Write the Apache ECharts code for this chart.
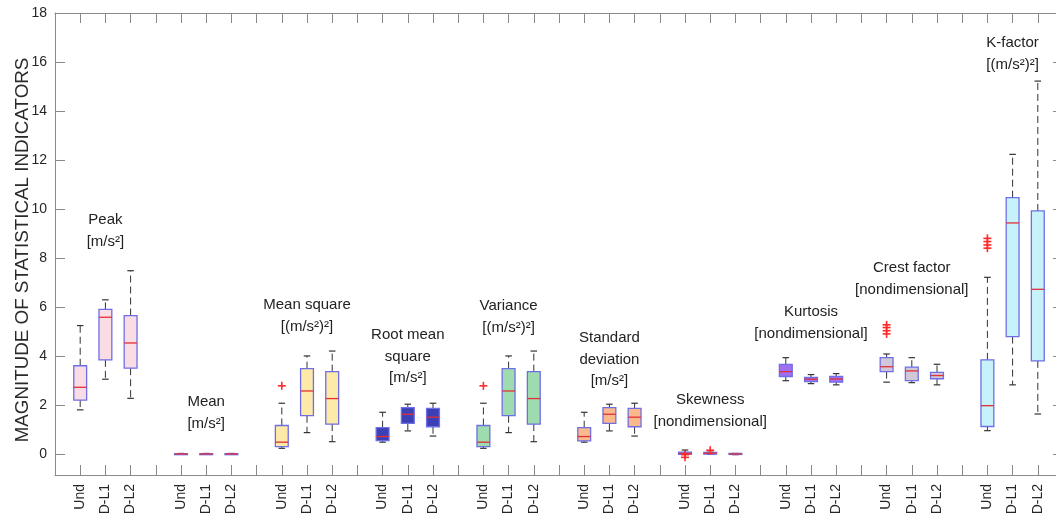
<!DOCTYPE html>
<html>
<head>
<meta charset="utf-8">
<script src="https://cdn.jsdelivr.net/npm/echarts@6/dist/echarts.min.js"></script>
<style>html,body{margin:0;padding:0;background:#fff}#c{width:1056px;height:516px}</style>
</head>
<body>
<div id="c"></div>
<script>
// ---------- data ----------
const members = ['Und', 'D-L1', 'D-L2'];
const indicators = ['Peak', 'Mean', 'Mean square', 'Root mean square', 'Variance',
  'Standard deviation', 'Skewness', 'Kurtosis', 'Crest factor', 'K-factor'];
const yTicks = [0, 2, 4, 6, 8, 10, 12, 14, 16, 18];

// each row: [lower whisker, Q1, median, Q3, upper whisker] for Und, D-L1, D-L2
const peak = [[1.80, 2.20, 2.72, 3.60, 5.24], [3.05, 3.84, 5.58, 5.90, 6.29], [2.27, 3.50, 4.53, 5.65, 7.48]];
const mean = [[-0.02, -0.01, 0.0, 0.01, 0.02], [-0.02, -0.01, 0.0, 0.01, 0.02], [-0.02, -0.01, 0.0, 0.01, 0.02]];
const meanSquare = [[0.23, 0.30, 0.48, 1.16, 2.07], [0.87, 1.56, 2.57, 3.48, 4.00], [0.50, 1.22, 2.26, 3.36, 4.20]];
const rms = [[0.48, 0.54, 0.71, 1.07, 1.70], [0.94, 1.25, 1.62, 1.89, 2.03], [0.73, 1.11, 1.50, 1.86, 2.07]];
const variance = [[0.23, 0.30, 0.48, 1.16, 2.07], [0.87, 1.56, 2.57, 3.48, 4.00], [0.50, 1.22, 2.26, 3.36, 4.20]];
const stdDev = [[0.48, 0.53, 0.71, 1.07, 1.70], [0.94, 1.25, 1.62, 1.89, 2.03], [0.73, 1.11, 1.50, 1.86, 2.07]];
const skewness = [[-0.02, -0.02, 0.02, 0.07, 0.16], [-0.01, -0.01, 0.03, 0.06, 0.07], [-0.03, -0.02, 0.0, 0.02, 0.02]];
const kurtosis = [[2.99, 3.16, 3.36, 3.66, 3.93], [2.87, 2.95, 3.05, 3.12, 3.24], [2.82, 2.93, 3.06, 3.17, 3.28]];
const crestFactor = [[2.93, 3.36, 3.56, 3.93, 4.08], [2.91, 2.99, 3.39, 3.54, 3.93], [2.82, 3.07, 3.20, 3.33, 3.66]];
const kFactor = [[0.95, 1.12, 1.97, 3.84, 7.21], [2.82, 4.79, 9.43, 10.46, 12.23], [1.63, 3.80, 6.72, 9.92, 15.22]];

// outliers for Und, D-L1, D-L2
const peakOut = [[], [], []];
const meanOut = [[], [], []];
const meanSquareOut = [[2.78], [], []];
const rmsOut = [[], [], []];
const varianceOut = [[2.78], [], []];
const stdDevOut = [[], [], []];
const skewnessOut = [[-0.03, -0.14], [0.15], []];
const kurtosisOut = [[], [], []];
const crestFactorOut = [[5.27, 5.16, 5.03, 4.90], [], []];
const kFactorOut = [[8.80, 8.67, 8.53, 8.40], [], []];

const annotationTexts = ['Peak\n[m/s²]', 'Mean\n[m/s²]', 'Mean square\n[(m/s²)²]',
  'Root mean\nsquare\n[m/s²]', 'Variance\n[(m/s²)²]', 'Standard\ndeviation\n[m/s²]',
  'Skewness\n[nondimensional]', 'Kurtosis\n[nondimensional]', 'Crest factor\n[nondimensional]',
  'K-factor\n[(m/s²)²]'];
const annotationY = [9.55, 2.12, 6.08, 4.86, 6.04, 4.73, 2.20, 5.80, 7.59, 16.78];

// ---------- styles ----------
const fills = ['#fadce4', '#b98cd8', '#fde9a8', '#3c40b4', '#9edcb0', '#f9b98c', '#b0a0f0', '#a070f2', '#d0c8d8', '#c8f2fa'];
const edge = '#6e6ee6';
const medianColor = '#e0303a';
const whiskerColor = '#333333';

const statsByGroup = [peak, mean, meanSquare, rms, variance, stdDev, skewness, kurtosis, crestFactor, kFactor];
const outByGroup = [peakOut, meanOut, meanSquareOut, rmsOut, varianceOut, stdDevOut, skewnessOut, kurtosisOut, crestFactorOut, kFactorOut];

// position on the x axis: group g, member m -> 4g + m + 1
const boxData = [];
const outData = [];
statsByGroup.forEach((grp, g) => {
  grp.forEach((s, m) => {
    const x = 4 * g + m + 1;
    boxData.push([x, s[0], s[1], s[2], s[3], s[4], g]);
    outByGroup[g][m].forEach(v => outData.push([x, v]));
  });
});
const annData = annotationTexts.map((t, g) => [4 * g + 2, annotationY[g]]);

function renderBox(params, api) {
  const x = api.value(0);
  const lo = api.coord([x, api.value(1)]);
  const q1 = api.coord([x, api.value(2)]);
  const md = api.coord([x, api.value(3)]);
  const q3 = api.coord([x, api.value(4)]);
  const hi = api.coord([x, api.value(5)]);
  const g = api.value(6);
  const band = api.size([1, 0])[0];
  const hw = band * 0.255;
  const cw = band * 0.13;
  const cx = lo[0];
  const dash = {stroke: whiskerColor, lineWidth: 1, lineDash: [7, 4]};
  const solid = {stroke: whiskerColor, lineWidth: 1.2};
  return {
    type: 'group',
    children: [
      {type: 'line', shape: {x1: cx, y1: q3[1], x2: cx, y2: hi[1]}, style: dash},
      {type: 'line', shape: {x1: cx, y1: q1[1], x2: cx, y2: lo[1]}, style: dash},
      {type: 'line', shape: {x1: cx - cw, y1: hi[1], x2: cx + cw, y2: hi[1]}, style: solid},
      {type: 'line', shape: {x1: cx - cw, y1: lo[1], x2: cx + cw, y2: lo[1]}, style: solid},
      {type: 'rect', shape: {x: cx - hw, y: q3[1], width: 2 * hw, height: Math.max(q1[1] - q3[1], 1)},
        style: {fill: fills[g], stroke: edge, lineWidth: 1.3}},
      {type: 'line', shape: {x1: cx - hw, y1: md[1], x2: cx + hw, y2: md[1]},
        style: {stroke: medianColor, lineWidth: 1.3}}
    ]
  };
}

function renderPlus(params, api) {
  const p = api.coord([api.value(0), api.value(1)]);
  const s = 4;
  const st = {stroke: '#ff2a2a', lineWidth: 1.6};
  return {
    type: 'group',
    children: [
      {type: 'line', shape: {x1: p[0] - s, y1: p[1], x2: p[0] + s, y2: p[1]}, style: st},
      {type: 'line', shape: {x1: p[0], y1: p[1] - s, x2: p[0], y2: p[1] + s}, style: st}
    ]
  };
}

function renderText(params, api) {
  const p = api.coord([api.value(0), api.value(1)]);
  return {
    type: 'text',
    x: p[0], y: p[1] - 10.5,
    style: {
      text: annotationTexts[params.dataIndex],
      fill: '#222', font: '15px "Liberation Sans", Arial, sans-serif',
      align: 'center', verticalAlign: 'top', lineHeight: 21.5
    }
  };
}

const axisGray = '#8a8a8a';
const font = '"Liberation Sans", Arial, sans-serif';

const chart = echarts.init(document.getElementById('c'), null, {renderer: 'canvas'});
chart.setOption({
  animation: false,
  grid: {left: 55, right: -7, top: 13, bottom: 41, containLabel: false, outerBoundsMode: 'none'},
  xAxis: [{
    type: 'value', min: 0, max: 40, interval: 1, position: 'bottom',
    axisLine: {show: true, onZero: false, lineStyle: {color: axisGray, width: 1}},
    axisTick: {show: true, inside: true, length: 10, lineStyle: {color: axisGray}},
    axisLabel: {
      rotate: 90, margin: 9, color: '#262626', fontSize: 14, fontFamily: font,
      formatter: v => { const k = (v - 1) % 4; return (v >= 1 && v <= 39 && k < 3) ? members[k] : ''; }
    },
    splitLine: {show: false}
  }, {
    type: 'value', min: 0, max: 40, interval: 1, position: 'top',
    axisLine: {show: true, onZero: false, lineStyle: {color: axisGray, width: 1}},
    axisTick: {show: true, inside: true, length: 10, lineStyle: {color: axisGray}},
    axisLabel: {show: false}, splitLine: {show: false}
  }],
  yAxis: [{
    type: 'value', min: -0.86, max: 18, position: 'left',
    name: 'MAGNITUDE OF STATISTICAL INDICATORS', nameLocation: 'middle', nameGap: 23,
    nameMoveOverlap: false,
    nameTextStyle: {fontSize: 18.8, color: '#2a2a2a', fontFamily: font, padding: [0, 12, 0, 0]},
    axisLine: {show: true, onZero: false, lineStyle: {color: axisGray, width: 1}},
    axisTick: {show: true, inside: true, length: 10, customValues: yTicks, lineStyle: {color: axisGray}},
    axisLabel: {customValues: yTicks, color: '#262626', fontSize: 14, fontFamily: font, margin: 8},
    splitLine: {show: false}
  }, {
    type: 'value', min: -0.86, max: 18, position: 'right',
    axisLine: {show: true, onZero: false, lineStyle: {color: axisGray, width: 1}},
    axisTick: {show: true, inside: true, length: 10, customValues: yTicks, lineStyle: {color: axisGray}},
    axisLabel: {show: false}, splitLine: {show: false}
  }],
  series: [
    {type: 'custom', name: 'boxes', renderItem: renderBox, data: boxData, xAxisIndex: 0, yAxisIndex: 0,
      encode: {x: 0, y: [1, 2, 3, 4, 5]}, clip: false, z: 2},
    {type: 'custom', name: 'outliers', renderItem: renderPlus, data: outData, encode: {x: 0, y: 1}, z: 3},
    {type: 'custom', name: 'labels', renderItem: renderText, data: annData, encode: {x: 0, y: 1}, z: 4}
  ]
});
</script>
</body>
</html>
